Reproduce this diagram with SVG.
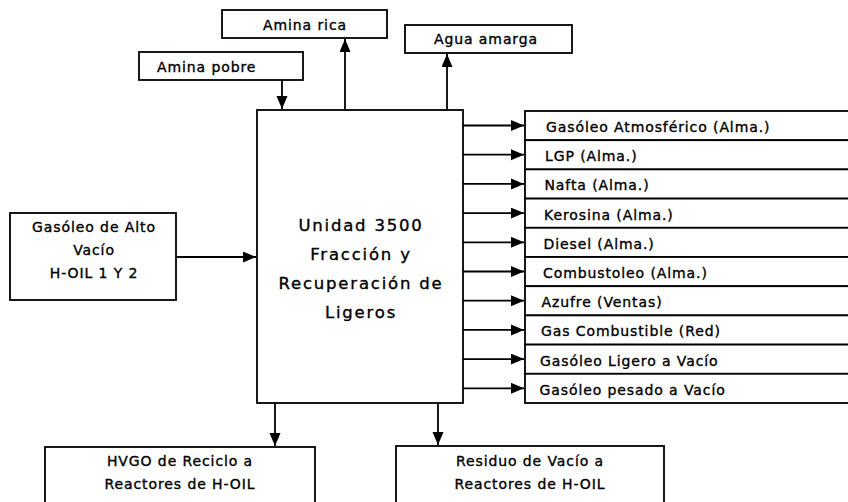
<svg xmlns="http://www.w3.org/2000/svg" width="848" height="502" viewBox="0 0 848 502">
<style>
.box{fill:#fff;stroke:#000;stroke-width:1.8}
.t{font-family:"DejaVu Sans",Verdana,sans-serif;font-size:14px;letter-spacing:0.9px;fill:#000;stroke:#000;stroke-width:0.35}
.c{text-anchor:middle}
.big{font-size:16.5px;letter-spacing:1.8px}
.ln{fill:none;stroke:#000;stroke-width:1.8}
</style>
<defs>
<marker id="ah" markerUnits="userSpaceOnUse" markerWidth="14" markerHeight="12" refX="13" refY="5.5" orient="auto">
<path d="M0,0 L13,5.5 L0,11 z" fill="#000"/>
</marker>
</defs>
<rect width="848" height="502" fill="#fff"/>

<g id="amina-rica"><rect class="box" x="222" y="10" width="165" height="28"/><text class="t c" x="305" y="29.5">Amina rica</text></g>
<g id="amina-pobre"><rect class="box" x="139" y="52" width="164" height="28"/><text class="t" x="157" y="72">Amina pobre</text></g>
<g id="agua-amarga"><rect class="box" x="405" y="25" width="167" height="28"/><text class="t" x="434" y="44">Agua amarga</text></g>

<g id="gasoleo-alto-vacio"><rect class="box" x="10" y="213" width="166" height="87"/>
<text class="t c" x="94" y="232">Gasóleo de Alto</text>
<text class="t c" x="94" y="255">Vacío</text>
<text class="t c" x="94" y="278">H-OIL 1 Y 2</text></g>

<g id="unidad-3500"><rect class="box" x="257" y="110" width="206" height="293"/>
<text class="t c big" x="361" y="231">Unidad 3500</text>
<text class="t c big" x="361" y="260">Fracción y</text>
<text class="t c big" x="361" y="289">Recuperación de</text>
<text class="t c big" x="361" y="318">Ligeros</text></g>

<g id="out-1"><rect class="box" x="525" y="111" width="340" height="29.2"/><text class="t" x="546" y="132">Gasóleo Atmosférico (Alma.)</text></g>
<g id="out-2"><rect class="box" x="525" y="140.2" width="340" height="29.2"/><text class="t" x="545" y="161">LGP (Alma.)</text></g>
<g id="out-3"><rect class="box" x="525" y="169.4" width="340" height="29.2"/><text class="t" x="544.5" y="190.4">Nafta (Alma.)</text></g>
<g id="out-4"><rect class="box" x="525" y="198.6" width="340" height="29.2"/><text class="t" x="544" y="219.6">Kerosina (Alma.)</text></g>
<g id="out-5"><rect class="box" x="525" y="227.8" width="340" height="29.2"/><text class="t" x="543.5" y="248.8">Diesel (Alma.)</text></g>
<g id="out-6"><rect class="box" x="525" y="257" width="340" height="29.2"/><text class="t" x="543" y="278">Combustoleo (Alma.)</text></g>
<g id="out-7"><rect class="box" x="525" y="286.2" width="340" height="29.2"/><text class="t" x="541.5" y="307.2">Azufre (Ventas)</text></g>
<g id="out-8"><rect class="box" x="525" y="315.4" width="340" height="29.2"/><text class="t" x="541" y="336.4">Gas Combustible (Red)</text></g>
<g id="out-9"><rect class="box" x="525" y="344.6" width="340" height="29.2"/><text class="t" x="540" y="365.6">Gasóleo Ligero a Vacío</text></g>
<g id="out-10"><rect class="box" x="525" y="373.8" width="340" height="29.2"/><text class="t" x="539.5" y="394.8">Gasóleo pesado a Vacío</text></g>

<g id="hvgo"><rect class="box" x="45" y="447" width="270" height="70"/>
<text class="t c" x="180" y="466">HVGO de Reciclo a</text>
<text class="t c" x="180" y="489">Reactores de H-OIL</text></g>
<g id="residuo"><rect class="box" x="396" y="446" width="268" height="70"/>
<text class="t c" x="530" y="466">Residuo de Vacío a</text>
<text class="t c" x="530" y="489">Reactores de H-OIL</text></g>

<g id="connectors">
<line class="ln" x1="282" y1="80" x2="282" y2="109" marker-end="url(#ah)"/>
<line class="ln" x1="345" y1="110" x2="345" y2="39" marker-end="url(#ah)"/>
<line class="ln" x1="447" y1="110" x2="447" y2="54" marker-end="url(#ah)"/>
<line class="ln" x1="176" y1="257" x2="256" y2="257" marker-end="url(#ah)"/>
<line class="ln" x1="463" y1="125.5" x2="524" y2="125.5" marker-end="url(#ah)"/>
<line class="ln" x1="463" y1="154.7" x2="524" y2="154.7" marker-end="url(#ah)"/>
<line class="ln" x1="463" y1="183.9" x2="524" y2="183.9" marker-end="url(#ah)"/>
<line class="ln" x1="463" y1="213.1" x2="524" y2="213.1" marker-end="url(#ah)"/>
<line class="ln" x1="463" y1="242.3" x2="524" y2="242.3" marker-end="url(#ah)"/>
<line class="ln" x1="463" y1="271.5" x2="524" y2="271.5" marker-end="url(#ah)"/>
<line class="ln" x1="463" y1="300.7" x2="524" y2="300.7" marker-end="url(#ah)"/>
<line class="ln" x1="463" y1="329.9" x2="524" y2="329.9" marker-end="url(#ah)"/>
<line class="ln" x1="463" y1="359.1" x2="524" y2="359.1" marker-end="url(#ah)"/>
<line class="ln" x1="463" y1="388.3" x2="524" y2="388.3" marker-end="url(#ah)"/>
<line class="ln" x1="275" y1="403" x2="275" y2="446" marker-end="url(#ah)"/>
<line class="ln" x1="438" y1="403" x2="438" y2="445" marker-end="url(#ah)"/>
</g>
</svg>
